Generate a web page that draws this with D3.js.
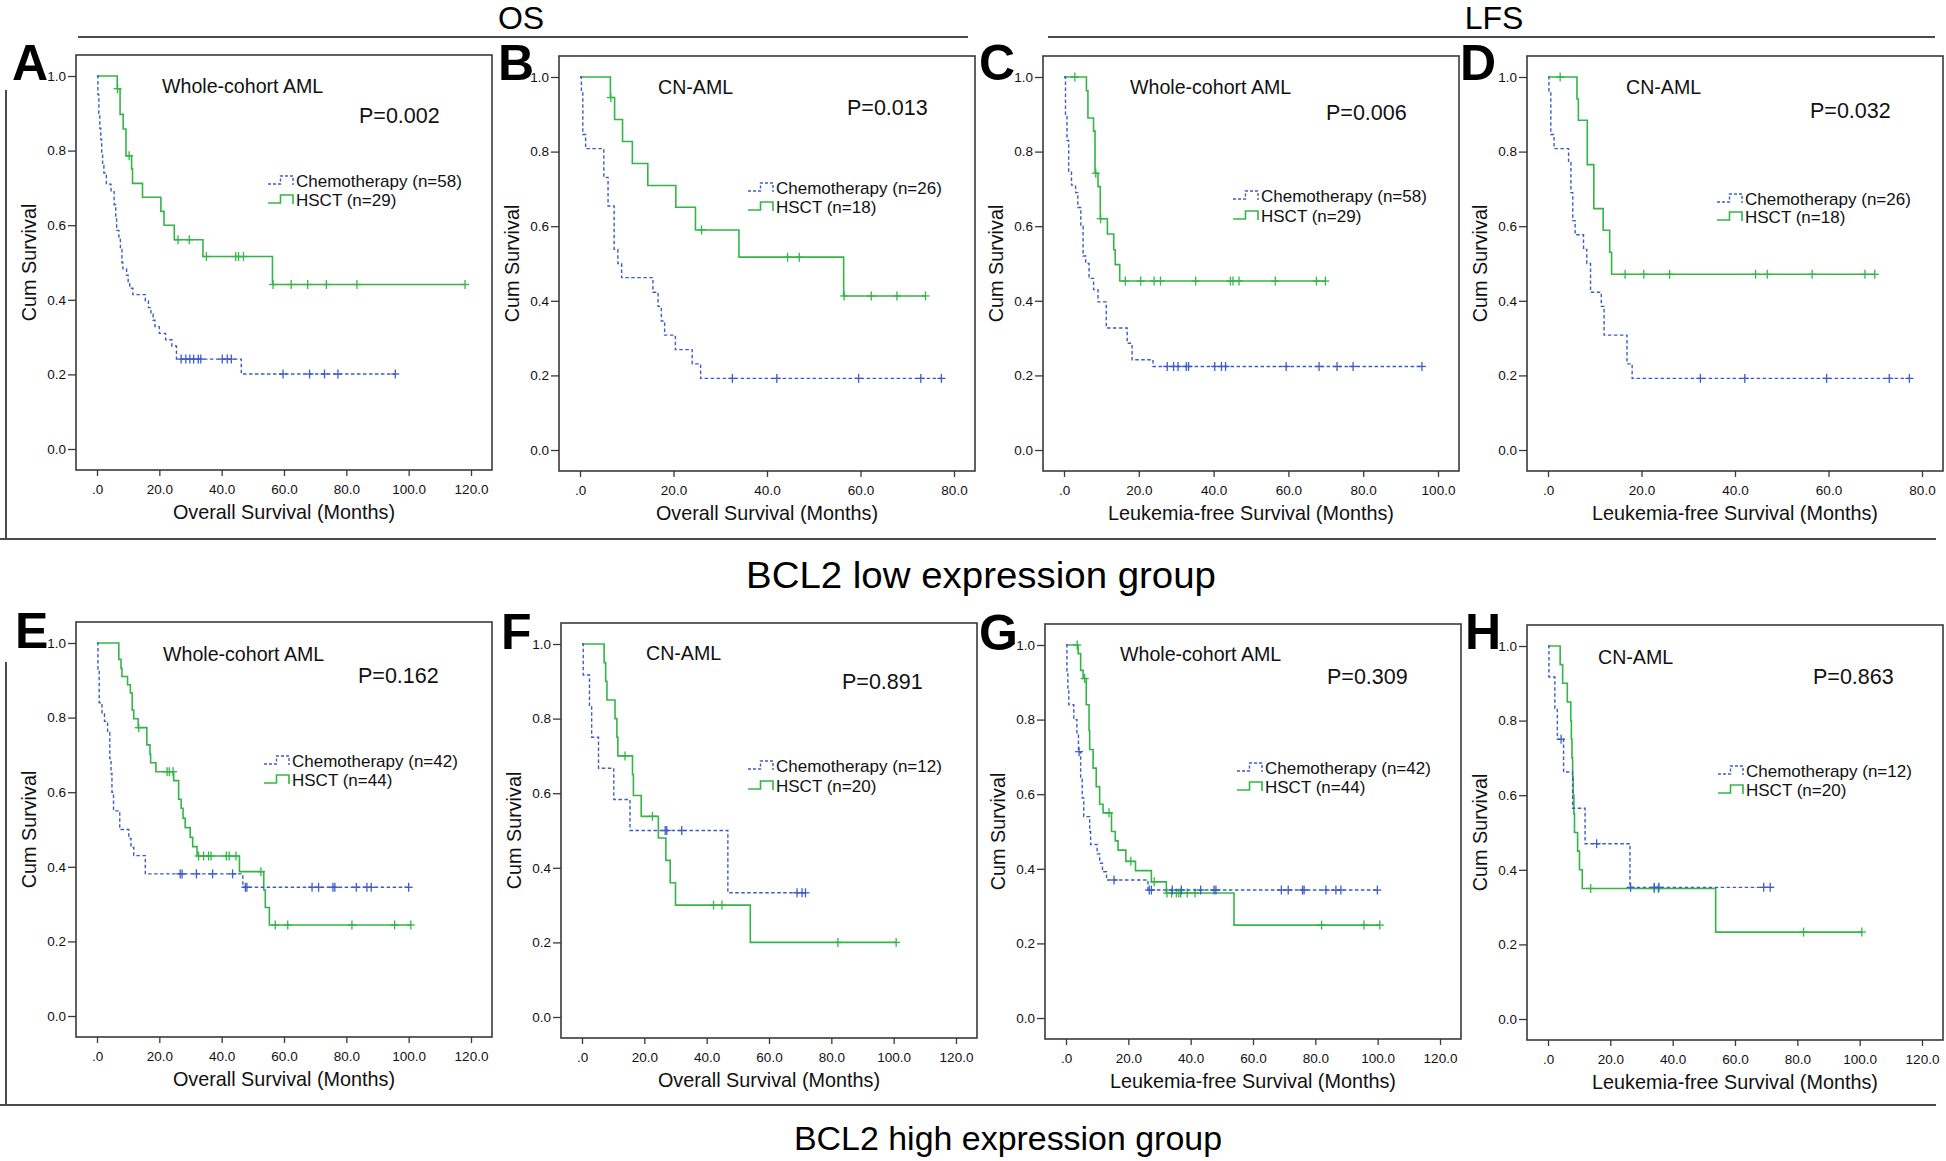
<!DOCTYPE html>
<html><head><meta charset="utf-8">
<script src="https://cdn.jsdelivr.net/npm/d3@7"></script>
<style>
body{margin:0;background:#fff}
svg{display:block;font-family:"Liberation Sans",Arial,Helvetica,sans-serif}
</style>
</head><body>
<svg id="chart" width="1946" height="1161"></svg>
<script>
// ---------------- DATA ----------------
const panelIds = ["A","B","C","D","E","F","G","H"];
const cohortNames = ["Whole-cohort AML","CN-AML","Whole-cohort AML","CN-AML","Whole-cohort AML","CN-AML","Whole-cohort AML","CN-AML"];
const pValues = ["P=0.002","P=0.013","P=0.006","P=0.032","P=0.162","P=0.891","P=0.309","P=0.863"];
const xTitles = ["Overall Survival (Months)","Overall Survival (Months)","Leukemia-free Survival (Months)","Leukemia-free Survival (Months)",
                 "Overall Survival (Months)","Overall Survival (Months)","Leukemia-free Survival (Months)","Leukemia-free Survival (Months)"];
const xMaxes = [120,80,100,80,120,120,120,120];
const chemoN = [58,26,58,26,42,12,42,12];
const hsctN = [29,18,29,18,44,20,44,20];
const yTicks = [0,0.2,0.4,0.6,0.8,1.0];
const groupTitles = ["OS","LFS"];
const rowTitles = ["BCL2 low expression group","BCL2 high expression group"];

// Kaplan-Meier steps: [month, survival after drop]; censor times in months
const chemoDropsA = [[0.3,0.95],[0.6,0.90],[0.9,0.86],[1.2,0.83],[1.5,0.79],[1.8,0.76],[2.2,0.74],[3.0,0.71],[4.5,0.69],[5.5,0.655],[6.0,0.62],[6.3,0.586],[7.0,0.569],[7.5,0.535],[8.0,0.50],[8.3,0.483],[9.5,0.466],[10.0,0.448],[10.5,0.431],[11.5,0.414],[15.5,0.397],[16.5,0.379],[17.3,0.362],[18.0,0.345],[18.6,0.328],[20.0,0.31],[22.0,0.293],[24.0,0.276],[25.5,0.241],[46.3,0.201]];
const chemoCensA = [27.0,28.5,29.8,31.0,32.5,33.3,40.2,41.8,43.1,59.7,68.2,73.0,77.3,95.7];
const hsctDropsA = [[6.5,0.966],[7.4,0.897],[8.4,0.858],[9.3,0.786],[11.1,0.751],[11.4,0.712],[14.6,0.675],[20.5,0.637],[21.5,0.600],[24.8,0.561],[34.0,0.516],[56.3,0.441]];
const hsctCensA = [6.6,10.3,26.0,29.6,35.1,44.5,45.4,47.0,56.5,62.3,67.6,73.6,83.4,118.1];

const chemoDropsB = [[0.3,0.962],[0.6,0.846],[1.2,0.808],[5.1,0.731],[6.0,0.654],[7.3,0.538],[8.1,0.5],[8.9,0.462],[15.6,0.423],[16.7,0.385],[17.4,0.346],[18.1,0.308],[20.4,0.269],[24.0,0.231],[25.8,0.192]];
const chemoCensB = [32.6,42.1,59.6,72.9,77.3];
const hsctDropsB = [[6.5,0.945],[7.4,0.886],[9.1,0.827],[11.2,0.768],[14.5,0.709],[20.5,0.651],[24.7,0.59],[34.0,0.517],[56.4,0.413]];
const hsctCensB = [6.6,26.0,44.4,46.9,56.5,62.3,67.8,73.9];

const chemoDropsC = [[0.4,0.90],[0.8,0.83],[1.25,0.747],[2.0,0.71],[3.1,0.69],[3.7,0.65],[4.5,0.60],[5.1,0.52],[5.8,0.50],[6.7,0.46],[7.9,0.43],[9.1,0.397],[11.3,0.327],[16.9,0.286],[18.2,0.242],[23.8,0.224]];
const chemoCensC = [27.6,29.3,30.5,32.7,33.3,40.3,42.1,43.2,59.4,68.2,73.0,77.3,95.7];
const hsctDropsC = [[6.0,0.963],[6.4,0.89],[7.9,0.855],[8.3,0.742],[9.1,0.706],[9.7,0.62],[11.6,0.579],[13.3,0.537],[13.7,0.497],[14.9,0.453]];
const hsctCensC = [2.9,8.5,9.8,16.4,20.5,24.1,25.8,35.2,44.5,45.2,46.8,56.5,67.5,69.9];

const chemoDropsD = [[0.2,0.962],[0.6,0.846],[1.3,0.808],[4.4,0.77],[4.9,0.69],[5.3,0.615],[5.8,0.577],[7.6,0.538],[8.3,0.5],[9.1,0.423],[11.4,0.385],[12.0,0.308],[16.9,0.231],[18.0,0.192]];
const chemoCensD = [32.6,42.1,59.6,73.0,77.3];
const hsctDropsD = [[6.2,0.941],[6.5,0.884],[8.4,0.765],[9.8,0.647],[11.8,0.589],[13.2,0.53],[13.6,0.471]];
const hsctCensD = [2.6,16.5,20.5,26.0,44.4,46.9,56.5,67.8,69.9];

const chemoDropsE = [[0.3,0.93],[0.7,0.84],[1.6,0.81],[2.4,0.79],[3.4,0.76],[4.1,0.69],[4.5,0.65],[4.8,0.60],[5.3,0.55],[7.3,0.50],[10.2,0.476],[10.9,0.452],[11.8,0.43],[15.5,0.381],[46.8,0.345]];
const chemoCensE = [26.7,27.3,31.9,37.1,43.5,47.6,48.1,69.0,71.1,75.7,76.3,83.2,86.6,88.0,100.0];
const hsctDropsE = [[7.0,0.956],[7.7,0.932],[8.0,0.91],[9.8,0.888],[10.7,0.866],[11.3,0.82],[11.8,0.797],[13.2,0.773],[16.0,0.727],[17.0,0.702],[17.2,0.679],[18.9,0.655],[24.6,0.631],[26.2,0.581],[27.0,0.557],[27.6,0.53],[28.3,0.505],[29.9,0.479],[30.7,0.454],[32.1,0.429],[45.7,0.387],[53.5,0.338],[54.0,0.291],[55.3,0.244]];
const hsctCensE = [13.4,22.5,23.2,24.4,32.6,34.2,35.8,36.6,41.5,42.4,44.6,52.6,57.2,61.2,81.8,95.5,100.7];

const chemoDropsF = [[0.4,0.917],[2.4,0.833],[3.1,0.75],[5.3,0.667],[10.2,0.583],[15.4,0.50],[46.8,0.333]];
const chemoCensF = [26.7,27.2,32.0,69.0,70.6,71.7];
const hsctDropsF = [[7.1,0.95],[7.6,0.90],[8.0,0.85],[10.6,0.80],[11.2,0.75],[11.5,0.70],[16.2,0.65],[16.5,0.594],[19.0,0.538],[24.5,0.48],[26.9,0.42],[28.3,0.36],[30.0,0.30],[54.0,0.20]];
const hsctCensF = [13.8,22.6,42.2,44.9,82.1,100.8];

const chemoDropsG = [[0.3,0.93],[0.6,0.88],[0.9,0.84],[2.5,0.80],[3.5,0.76],[4.0,0.714],[4.7,0.64],[5.2,0.59],[5.7,0.54],[7.6,0.50],[7.9,0.465],[10.0,0.44],[10.8,0.415],[11.7,0.392],[13.0,0.37],[26.3,0.343]];
const chemoCensG = [4.2,15.4,26.7,27.4,34.1,37.0,43.2,47.5,48.1,69.1,71.3,75.9,76.4,83.4,86.6,88.2,99.9];
const hsctDropsG = [[3.9,0.977],[4.7,0.932],[5.5,0.91],[6.5,0.84],[7.4,0.77],[7.6,0.72],[8.7,0.67],[9.7,0.62],[10.8,0.573],[11.9,0.55],[14.6,0.50],[15.8,0.475],[16.7,0.45],[19.2,0.42],[22.3,0.395],[27.4,0.365],[32.2,0.335],[53.9,0.249]];
const hsctCensG = [3.6,6.0,13.8,20.8,28.3,32.4,33.9,35.4,36.2,36.8,38.9,41.4,82.0,95.6,100.7];

const chemoDropsH = [[0.3,0.917],[2.2,0.833],[3.0,0.75],[5.0,0.662],[7.9,0.565],[11.9,0.47],[26.3,0.353]];
const chemoCensH = [4.2,15.6,26.5,34.1,35.6,69.2,71.3];
const hsctDropsH = [[3.9,0.95],[4.7,0.90],[6.2,0.85],[7.3,0.80],[7.5,0.75],[7.7,0.70],[7.9,0.65],[8.1,0.60],[8.3,0.55],[8.5,0.50],[9.5,0.45],[10.1,0.40],[11.0,0.35],[53.8,0.233]];
const hsctCensH = [13.7,34.1,35.4,82.0,100.7];

const chemoDrops = [chemoDropsA,chemoDropsB,chemoDropsC,chemoDropsD,chemoDropsE,chemoDropsF,chemoDropsG,chemoDropsH];
const chemoCens  = [chemoCensA,chemoCensB,chemoCensC,chemoCensD,chemoCensE,chemoCensF,chemoCensG,chemoCensH];
const hsctDrops  = [hsctDropsA,hsctDropsB,hsctDropsC,hsctDropsD,hsctDropsE,hsctDropsF,hsctDropsG,hsctDropsH];
const hsctCens   = [hsctCensA,hsctCensB,hsctCensC,hsctCensD,hsctCensE,hsctCensF,hsctCensG,hsctCensH];

// ---------------- LAYOUT ----------------
const layout = [
  {L:76,  T:55,  lx:12,   ly:80,  cx:86, cy:38, px:283, py:68, gx:192, g1:132, g2:151},
  {L:559, T:56,  lx:498,  ly:80,  cx:99, cy:38, px:288, py:59, gx:189, g1:138, g2:157},
  {L:1043,T:56,  lx:979,  ly:80,  cx:87, cy:38, px:283, py:64, gx:190, g1:146, g2:166},
  {L:1527,T:56,  lx:1460, ly:80,  cx:99, cy:38, px:283, py:62, gx:190, g1:149, g2:167},
  {L:76,  T:622, lx:15,   ly:648, cx:87, cy:39, px:282, py:61, gx:188, g1:145, g2:164},
  {L:561, T:623, lx:501,  ly:649, cx:85, cy:37, px:281, py:66, gx:187, g1:149, g2:169},
  {L:1045,T:624, lx:979,  ly:650, cx:75, cy:37, px:282, py:60, gx:192, g1:150, g2:169},
  {L:1527,T:625, lx:1465, ly:649, cx:71, cy:39, px:286, py:59, gx:191, g1:152, g2:171}
];
const W = 416, H = 415;
const BLUE = "#3d5cc8", GREEN = "#34b548", FRAME = "#3a3a3a";

const svg = d3.select("#chart");

// headers and separators
const sep = svg.append("g").attr("stroke","#4a4a4a").attr("stroke-width",2);
sep.append("line").attr("x1",78).attr("x2",968).attr("y1",37).attr("y2",37);
sep.append("line").attr("x1",1048).attr("x2",1935).attr("y1",37).attr("y2",37);
sep.append("line").attr("x1",6).attr("x2",6).attr("y1",90).attr("y2",539);
sep.append("line").attr("x1",0).attr("x2",1936).attr("y1",539).attr("y2",539);
sep.append("line").attr("x1",6).attr("x2",6).attr("y1",662).attr("y2",1105);
sep.append("line").attr("x1",0).attr("x2",1936).attr("y1",1105).attr("y2",1105);

svg.append("text").attr("x",521).attr("y",29).attr("text-anchor","middle").attr("font-size",32).text(groupTitles[0]);
svg.append("text").attr("x",1494).attr("y",29).attr("text-anchor","middle").attr("font-size",32).text(groupTitles[1]);
svg.append("text").attr("x",981).attr("y",588).attr("text-anchor","middle").attr("font-size",36)
  .attr("textLength",470).attr("lengthAdjust","spacingAndGlyphs").text(rowTitles[0]);
svg.append("text").attr("x",1008).attr("y",1150).attr("text-anchor","middle").attr("font-size",34)
  .attr("textLength",428).attr("lengthAdjust","spacingAndGlyphs").text(rowTitles[1]);

const line = (x,y) => d3.line().x(d=>x(d[0])).y(d=>y(d[1])).curve(d3.curveStepAfter);
function survAt(drops,t){ let s=1; drops.forEach(d=>{ if(d[0]<=t) s=d[1]; }); return s; }

function drawCurve(g, drops, cens, x, y, color, dashed){
  const end = Math.max(d3.max(cens), d3.max(drops, d=>d[0]));
  const pts = [[0,1]].concat(drops, [[end, drops[drops.length-1][1]]]);
  g.append("path").attr("d", line(x,y)(pts)).attr("fill","none").attr("stroke",color)
    .attr("stroke-width", dashed?1.4:1.6).attr("stroke-dasharray", dashed?"3.5,2.5":null);
  const cg = g.append("g").attr("stroke",color).attr("stroke-width",1.3);
  cens.forEach(t=>{
    const cx = x(t), cy = y(survAt(drops,t));
    cg.append("line").attr("x1",cx).attr("x2",cx).attr("y1",cy-4.5).attr("y2",cy+4.5);
    cg.append("line").attr("x1",cx-4).attr("x2",cx+4).attr("y1",cy).attr("y2",cy);
  });
}

layout.forEach((lay,i)=>{
  const g = svg.append("g");
  const x = d3.scaleLinear().domain([0,xMaxes[i]]).range([lay.L+21, lay.L+395]);
  const y = d3.scaleLinear().domain([0,1]).range([lay.T+394, lay.T+21]);
  const xTicks = d3.range(0, xMaxes[i]+1, 20);

  const ya = g.append("g").attr("transform",`translate(${lay.L},0)`)
    .call(d3.axisLeft(y).tickValues(yTicks).tickFormat(d3.format(".1f")).tickSize(8).tickPadding(2));
  const xa = g.append("g").attr("transform",`translate(0,${lay.T+H})`)
    .call(d3.axisBottom(x).tickValues(xTicks).tickFormat(d=> d===0 ? ".0" : d.toFixed(1)).tickSize(6).tickPadding(8));
  [ya,xa].forEach(a=>{
    a.attr("font-family",null).attr("font-size",13.5);
    a.select(".domain").remove();
    a.selectAll(".tick line").attr("stroke",FRAME).attr("stroke-width",1.3);
    a.selectAll(".tick text").attr("fill","#111");
  });

  g.append("rect").attr("x",lay.L).attr("y",lay.T).attr("width",W).attr("height",H)
    .attr("fill","none").attr("stroke",FRAME).attr("stroke-width",1.6);

  drawCurve(g, hsctDrops[i], hsctCens[i], x, y, GREEN, false);
  drawCurve(g, chemoDrops[i], chemoCens[i], x, y, BLUE, true);

  g.append("text").attr("transform",`translate(${lay.L-40},${(y(0)+y(1))/2}) rotate(-90)`)
    .attr("text-anchor","middle").attr("font-size",19.8).attr("fill","#111").text("Cum Survival");
  g.append("text").attr("x",(x.range()[0]+x.range()[1])/2).attr("y",lay.T+464)
    .attr("text-anchor","middle").attr("font-size",19.8).attr("fill","#111").text(xTitles[i]);

  svg.append("text").attr("x",lay.lx).attr("y",lay.ly).attr("font-size",50).attr("font-weight","bold").text(panelIds[i]);

  g.append("text").attr("x",lay.L+lay.cx).attr("y",lay.T+lay.cy).attr("font-size",19.6).attr("fill","#111").text(cohortNames[i]);
  g.append("text").attr("x",lay.L+lay.px).attr("y",lay.T+lay.py).attr("font-size",21.5).attr("fill","#111").text(pValues[i]);

  const leg = [[BLUE,true,lay.g1,`Chemotherapy (n=${chemoN[i]})`],[GREEN,false,lay.g2,`HSCT (n=${hsctN[i]})`]];
  leg.forEach(([col,dash,dy,label])=>{
    const bx = lay.L+lay.gx, by = lay.T+dy;
    g.append("path").attr("d",`M${bx},${by-3}H${bx+12.5}V${by-11}H${bx+25}V${by-2}`)
      .attr("fill","none").attr("stroke",col).attr("stroke-width",dash?1.4:1.6).attr("stroke-dasharray",dash?"3,2":null);
    g.append("text").attr("x",bx+28).attr("y",by).attr("font-size",17).attr("fill","#111").text(label);
  });
});
</script>
</body></html>
